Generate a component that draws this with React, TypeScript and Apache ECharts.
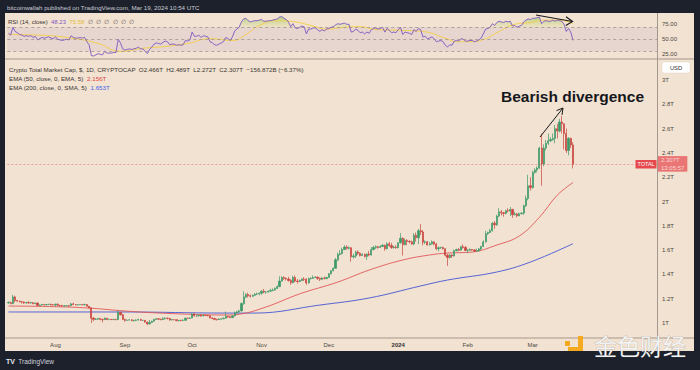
import React, { useEffect, useRef } from 'react';
import * as echarts from 'echarts';

// ---------- DATA ----------
const START_UTC = Date.UTC(2023, 6, 11); // first candle: 2023-07-11
const TOTAL_SLOTS = 290; // daily slots incl. empty space to the right
const FIRST_OPEN = 1.165;

// daily closes (trillion USD)
const closes = [
  // Jul 11-31
  1.170, 1.160, 1.215, 1.185, 1.180, 1.175, 1.172, 1.165, 1.168, 1.165, 1.168, 1.160, 1.165, 1.145, 1.148, 1.152, 1.150, 1.152, 1.155, 1.150, 1.148,
  // Aug
  1.155, 1.145, 1.143, 1.140, 1.142, 1.143, 1.142, 1.158, 1.152, 1.150, 1.150, 1.152, 1.150, 1.152, 1.138, 1.125, 1.040, 1.030, 1.032, 1.038, 1.030, 1.028, 1.040, 1.030, 1.030, 1.028, 1.030, 1.028, 1.088, 1.068, 1.030,
  // Sep
  1.022, 1.025, 1.026, 1.020, 1.022, 1.024, 1.030, 1.022, 1.022, 1.008, 0.992, 1.005, 1.015, 1.030, 1.035, 1.032, 1.028, 1.035, 1.040, 1.038, 1.025, 1.028, 1.027, 1.020, 1.022, 1.020, 1.022, 1.040, 1.038, 1.042,
  // Oct
  1.075, 1.058, 1.060, 1.065, 1.058, 1.064, 1.062, 1.060, 1.042, 1.038, 1.030, 1.028, 1.032, 1.035, 1.040, 1.055, 1.052, 1.045, 1.058, 1.085, 1.092, 1.100, 1.160, 1.215, 1.235, 1.225, 1.220, 1.228, 1.238, 1.240, 1.245,
  // Nov
  1.262, 1.255, 1.255, 1.262, 1.268, 1.272, 1.285, 1.300, 1.345, 1.375, 1.368, 1.362, 1.350, 1.332, 1.375, 1.345, 1.342, 1.350, 1.362, 1.360, 1.330, 1.365, 1.368, 1.375, 1.378, 1.368, 1.360, 1.370, 1.365, 1.375,
  // Dec
  1.405, 1.430, 1.450, 1.520, 1.565, 1.572, 1.605, 1.625, 1.615, 1.620, 1.545, 1.552, 1.585, 1.575, 1.555, 1.565, 1.548, 1.568, 1.560, 1.605, 1.622, 1.628, 1.622, 1.630, 1.640, 1.612, 1.652, 1.638, 1.622, 1.625, 1.620,
  // Jan
  1.660, 1.698, 1.645, 1.680, 1.672, 1.668, 1.650, 1.722, 1.702, 1.760, 1.750, 1.665, 1.668, 1.642, 1.652, 1.668, 1.650, 1.612, 1.620, 1.622, 1.612, 1.558, 1.540, 1.560, 1.552, 1.595, 1.605, 1.600, 1.628, 1.622, 1.598,
  // Feb
  1.600, 1.605, 1.602, 1.592, 1.595, 1.610, 1.630, 1.668, 1.735, 1.745, 1.760, 1.822, 1.808, 1.880, 1.915, 1.908, 1.902, 1.925, 1.922, 1.935, 1.892, 1.898, 1.882, 1.900, 1.905, 1.965, 2.025, 2.130, 2.115,
  // Mar 1-19
  2.240, 2.260, 2.275, 2.440, 2.310, 2.440, 2.480, 2.500, 2.510, 2.520, 2.600, 2.580, 2.655, 2.640, 2.560, 2.420, 2.520, 2.466, 2.307,
];

const highs = [
  1.178, 1.175, 1.232, 1.225, 1.190, 1.185, 1.180, 1.178, 1.175, 1.180, 1.172, 1.170, 1.168, 1.168, 1.152, 1.158, 1.158, 1.156, 1.158, 1.158, 1.155,
  1.160, 1.162, 1.150, 1.150, 1.145, 1.148, 1.148, 1.165, 1.168, 1.156, 1.155, 1.155, 1.155, 1.160, 1.155, 1.140, 1.128, 1.050, 1.040, 1.042, 1.040, 1.036, 1.045, 1.042, 1.035, 1.032, 1.035, 1.035, 1.100, 1.090, 1.075,
  1.035, 1.028, 1.030, 1.030, 1.026, 1.030, 1.035, 1.035, 1.025, 1.025, 1.012, 1.025, 1.020, 1.035, 1.040, 1.038, 1.035, 1.048, 1.048, 1.045, 1.040, 1.032, 1.030, 1.030, 1.026, 1.026, 1.032, 1.045, 1.045, 1.046,
  1.080, 1.085, 1.065, 1.068, 1.070, 1.070, 1.066, 1.066, 1.062, 1.048, 1.040, 1.035, 1.040, 1.038, 1.045, 1.095, 1.060, 1.058, 1.065, 1.095, 1.100, 1.110, 1.170, 1.260, 1.245, 1.250, 1.235, 1.235, 1.245, 1.250, 1.252,
  1.270, 1.280, 1.262, 1.268, 1.282, 1.285, 1.292, 1.310, 1.385, 1.385, 1.385, 1.375, 1.380, 1.362, 1.388, 1.392, 1.362, 1.358, 1.368, 1.378, 1.370, 1.375, 1.378, 1.392, 1.385, 1.382, 1.375, 1.380, 1.382, 1.380,
  1.412, 1.435, 1.458, 1.535, 1.580, 1.600, 1.620, 1.640, 1.640, 1.630, 1.622, 1.570, 1.595, 1.598, 1.582, 1.575, 1.572, 1.572, 1.592, 1.625, 1.635, 1.640, 1.635, 1.640, 1.650, 1.645, 1.665, 1.668, 1.660, 1.635, 1.640,
  1.665, 1.740, 1.705, 1.695, 1.690, 1.680, 1.678, 1.740, 1.745, 1.775, 1.815, 1.765, 1.680, 1.675, 1.668, 1.680, 1.672, 1.660, 1.630, 1.628, 1.628, 1.615, 1.570, 1.568, 1.565, 1.605, 1.612, 1.618, 1.635, 1.648, 1.635,
  1.608, 1.615, 1.610, 1.608, 1.612, 1.618, 1.635, 1.680, 1.760, 1.752, 1.775, 1.830, 1.840, 1.892, 1.945, 1.930, 1.915, 1.932, 1.945, 1.955, 1.940, 1.915, 1.905, 1.910, 1.912, 1.975, 2.050, 2.220, 2.200,
  2.255, 2.275, 2.290, 2.450, 2.560, 2.470, 2.505, 2.560, 2.530, 2.560, 2.630, 2.640, 2.680, 2.705, 2.640, 2.600, 2.530, 2.525, 2.489,
];

const lows = [
  1.160, 1.155, 1.155, 1.170, 1.175, 1.170, 1.160, 1.158, 1.160, 1.160, 1.160, 1.155, 1.155, 1.140, 1.140, 1.145, 1.145, 1.146, 1.150, 1.145, 1.143,
  1.135, 1.140, 1.138, 1.135, 1.138, 1.138, 1.132, 1.140, 1.148, 1.145, 1.145, 1.148, 1.146, 1.145, 1.135, 1.122, 1.000, 1.015, 1.025, 1.028, 1.022, 1.005, 1.025, 1.025, 1.022, 1.025, 1.025, 1.022, 1.025, 1.062, 1.025,
  1.010, 1.020, 1.020, 1.015, 1.012, 1.015, 1.020, 1.018, 1.018, 1.002, 0.982, 0.990, 1.000, 1.012, 1.025, 1.028, 1.022, 1.025, 1.030, 1.030, 1.020, 1.022, 1.024, 1.015, 1.012, 1.015, 1.018, 1.020, 1.035, 1.036,
  1.040, 1.055, 1.050, 1.052, 1.052, 1.055, 1.058, 1.055, 1.038, 1.032, 1.022, 1.020, 1.025, 1.030, 1.032, 1.038, 1.042, 1.040, 1.040, 1.055, 1.080, 1.085, 1.095, 1.150, 1.205, 1.210, 1.210, 1.215, 1.225, 1.230, 1.228,
  1.232, 1.245, 1.240, 1.250, 1.258, 1.262, 1.265, 1.280, 1.295, 1.340, 1.355, 1.350, 1.340, 1.315, 1.328, 1.335, 1.325, 1.338, 1.345, 1.345, 1.315, 1.325, 1.358, 1.362, 1.370, 1.355, 1.345, 1.352, 1.360, 1.362,
  1.372, 1.400, 1.425, 1.448, 1.510, 1.555, 1.565, 1.600, 1.605, 1.605, 1.505, 1.530, 1.535, 1.560, 1.548, 1.552, 1.540, 1.520, 1.550, 1.555, 1.598, 1.610, 1.612, 1.618, 1.625, 1.595, 1.605, 1.628, 1.610, 1.612, 1.612,
  1.615, 1.655, 1.555, 1.640, 1.640, 1.655, 1.645, 1.640, 1.670, 1.650, 1.725, 1.640, 1.650, 1.638, 1.640, 1.645, 1.640, 1.600, 1.590, 1.610, 1.605, 1.548, 1.470, 1.530, 1.535, 1.548, 1.590, 1.590, 1.595, 1.612, 1.590,
  1.575, 1.595, 1.595, 1.585, 1.588, 1.590, 1.600, 1.625, 1.662, 1.725, 1.740, 1.752, 1.775, 1.800, 1.870, 1.885, 1.875, 1.895, 1.910, 1.880, 1.865, 1.885, 1.870, 1.880, 1.895, 1.890, 1.955, 2.010, 2.090,
  2.105, 2.230, 2.240, 2.270, 2.130, 2.290, 2.420, 2.465, 2.490, 2.500, 2.480, 2.520, 2.570, 2.560, 2.430, 2.400, 2.380, 2.440, 2.272,
];

// EMA 50 and SMA 200: [day index, value]
const ema50Pts = [
  [0, 1.140], [20, 1.135], [36, 1.123], [52, 1.099], [70, 1.080], [97, 1.066], [103, 1.072], [115, 1.132],
  [130, 1.240], [147, 1.337], [161, 1.436], [176, 1.519], [188, 1.560], [196, 1.576], [207, 1.584],
  [218, 1.642], [228, 1.716], [237, 1.870], [245, 2.053], [252, 2.156],
];
const sma200Pts = [
  [0, 1.091], [52, 1.091], [97, 1.082], [110, 1.082], [139, 1.148], [161, 1.206], [184, 1.305],
  [196, 1.354], [218, 1.420], [233, 1.502], [252, 1.653],
];

// RSI(14), one value per day
const rsi = [
  60, 57, 70, 63, 61, 58, 57, 55, 56, 55, 56, 53, 55, 49, 51, 53, 52, 53, 54, 52, 51,
  54, 50, 49, 48, 49, 50, 49, 56, 53, 52, 52, 53, 52, 53, 46, 41, 23, 22, 24, 26, 25, 24, 30, 27, 27, 27, 28, 28, 50, 44, 34,
  32, 33, 34, 33, 34, 35, 37, 34, 34, 30, 26, 33, 37, 42, 44, 43, 42, 45, 47, 46, 41, 42, 42, 40, 41, 40, 41, 48, 47, 49,
  62, 55, 55, 57, 53, 56, 55, 54, 46, 44, 41, 40, 42, 44, 46, 53, 51, 48, 54, 64, 67, 70, 79, 84, 85, 81, 79, 80, 81, 81, 82,
  83, 80, 80, 81, 81, 82, 83, 84, 87, 88, 85, 83, 79, 71, 76, 69, 68, 70, 72, 71, 59, 67, 67, 69, 69, 66, 63, 66, 64, 67,
  68, 70, 71, 74, 76, 75, 76, 77, 75, 75, 62, 63, 67, 65, 61, 62, 59, 62, 60, 66, 68, 69, 67, 68, 70, 62, 68, 65, 61, 62, 61,
  66, 70, 58, 62, 61, 60, 58, 66, 63, 68, 66, 54, 55, 51, 52, 54, 51, 46, 47, 48, 46, 40, 37, 41, 40, 47, 48, 47, 51, 50, 47,
  47, 48, 48, 46, 47, 49, 52, 59, 67, 68, 70, 76, 73, 78, 80, 79, 78, 80, 79, 80, 72, 73, 70, 72, 73, 79, 82, 84, 83,
  85, 85, 86, 87, 76, 80, 81, 80, 80, 82, 80, 82, 81, 80, 75, 63, 68, 62, 48.23,
];
// RSI-based MA: [day index, value]
const rsiMaPts = [
  [0, 58], [13, 57], [30, 51], [40, 43], [50, 30], [60, 35], [70, 38], [80, 43], [90, 51], [100, 48],
  [106, 58], [112, 73], [120, 81], [128, 79], [136, 72], [142, 67], [150, 70], [156, 71], [165, 66],
  [175, 65], [185, 63], [195, 52], [200, 46], [206, 46], [213, 51], [219, 63], [226, 75], [233, 78],
  [240, 82], [246, 82], [252, 76],
];

const priceTicks = [1, 1.2, 1.4, 1.6, 1.8, 2, 2.2, 2.4, 2.6, 2.8, 3];
const rsiTicks = [25, 50, 75];
const rsiLevels = [70, 50, 30];
const MONTHS = ['Jan', 'Feb', 'Mar', 'Apr', 'May', 'Jun', 'Jul', 'Aug', 'Sep', 'Oct', 'Nov', 'Dec'];
const LAST_PRICE = 2.307;
const LAST_TIME = '13:05:57';
const RSI_LAST = '48.23';
const RSI_MA_LAST = '75.58';

// ---------- STYLE ----------
const FONT = "'Liberation Sans', Arial, sans-serif";
const UP = '#3d9a68';
const DOWN = '#c9453f';
const AXIS_TXT = '#4d4843';
const FRAME = '#a5978b';

function buildOption() {
  const categories = Array.from({ length: TOTAL_SLOTS }, (_, i) =>
    new Date(START_UTC + i * 86400000).toISOString().slice(0, 10)
  );
  const candles = closes.map((c, i) => {
    const o = i === 0 ? FIRST_OPEN : closes[i - 1];
    return [o, c, Math.min(lows[i], o, c), Math.max(highs[i], o, c)];
  });
  const rsiData = rsi.map((v, i) => [i, v]);
  const obData = rsi.map((v, i) => [i, Math.max(v, 70)]);
  const lastIdx = closes.length - 1;

  const gridL = 7.3;
  const gridR = 43;

  return {
    animation: false,
    backgroundColor: 'transparent',
    textStyle: { fontFamily: FONT },
    grid: [
      { left: gridL, right: gridR, top: 60, height: 277 },
      { left: gridL, right: gridR, top: 13.5, height: 44.5 },
    ],
    xAxis: [
      {
        type: 'category',
        gridIndex: 0,
        data: categories,
        boundaryGap: true,
        axisLine: { show: false },
        axisTick: { show: false },
        splitLine: { show: false },
        axisLabel: {
          interval: (i: number, v: string) => v.endsWith('-01') && i <= lastIdx,
          formatter: (v: string) => {
            const m = +v.slice(5, 7);
            return m === 1 ? `{y|${v.slice(0, 4)}}` : MONTHS[m - 1];
          },
          rich: { y: { fontWeight: 'bold', fontSize: 6, color: '#333', fontFamily: FONT } },
          color: AXIS_TXT,
          fontSize: 6,
          margin: 5,
          fontFamily: FONT,
        },
      },
      { type: 'value', gridIndex: 0, min: -0.5, max: TOTAL_SLOTS - 0.5, show: false },
      { type: 'value', gridIndex: 1, min: -0.5, max: TOTAL_SLOTS - 0.5, show: false },
    ],
    yAxis: [
      {
        type: 'value',
        gridIndex: 0,
        position: 'right',
        min: 0.885,
        max: 3.165,
        axisLine: { show: false },
        axisTick: { show: false },
        splitLine: { show: false },
        axisLabel: {
          customValues: priceTicks,
          formatter: (v: number) => `${parseFloat(v.toFixed(1))}T`,
          color: AXIS_TXT,
          fontSize: 6,
          margin: 5,
          fontFamily: FONT,
        },
      },
      {
        type: 'value',
        gridIndex: 1,
        position: 'right',
        min: 18.8,
        max: 93,
        axisLine: { show: false },
        axisTick: { show: false },
        splitLine: { show: false },
        axisLabel: {
          customValues: rsiTicks,
          formatter: (v: number) => v.toFixed(2),
          color: AXIS_TXT,
          fontSize: 6,
          margin: 5,
          fontFamily: FONT,
        },
      },
    ],
    series: [
      {
        type: 'line',
        name: 'SMA200',
        xAxisIndex: 1,
        yAxisIndex: 0,
        data: sma200Pts,
        showSymbol: false,
        smooth: 0.4,
        silent: true,
        lineStyle: { color: '#4356d6', width: 0.9 },
        z: 3,
      },
      {
        type: 'line',
        name: 'EMA50',
        xAxisIndex: 1,
        yAxisIndex: 0,
        data: ema50Pts,
        showSymbol: false,
        smooth: 0.4,
        silent: true,
        lineStyle: { color: '#e0585a', width: 0.9 },
        z: 3,
      },
      {
        type: 'candlestick',
        xAxisIndex: 0,
        yAxisIndex: 0,
        data: candles,
        barWidth: 1.7,
        silent: true,
        z: 4,
        itemStyle: {
          color: UP,
          color0: DOWN,
          borderColor: UP,
          borderColor0: DOWN,
          borderWidth: 0.7,
        },
        markLine: {
          silent: true,
          symbol: ['none', 'none'],
          data: [{ yAxis: LAST_PRICE }],
          lineStyle: { color: '#e04848', type: [2, 2], width: 0.6, opacity: 0.7 },
          label: {
            show: true,
            position: 'end',
            distance: 1,
            formatter: () => `${LAST_PRICE}T\n${LAST_TIME}`,
            backgroundColor: '#e5484d',
            color: '#ffffff',
            fontSize: 6,
            lineHeight: 7.3,
            padding: [1, 3, 0, 3],
            fontFamily: FONT,
          },
        },
      },
      {
        type: 'line',
        name: 'RSI OB fill',
        xAxisIndex: 2,
        yAxisIndex: 1,
        data: obData,
        showSymbol: false,
        silent: true,
        lineStyle: { opacity: 0, width: 0 },
        areaStyle: {
          origin: 70,
          color: new echarts.graphic.LinearGradient(0, 0, 0, 1, [
            { offset: 0, color: 'rgba(110,185,70,0.75)' },
            { offset: 1, color: 'rgba(200,220,110,0.2)' },
          ]),
        },
        z: 2,
      },
      {
        type: 'line',
        name: 'RSI MA',
        xAxisIndex: 2,
        yAxisIndex: 1,
        data: rsiMaPts,
        showSymbol: false,
        smooth: 0.5,
        silent: true,
        lineStyle: { color: '#f2cf4e', width: 1 },
        z: 3,
      },
      {
        type: 'line',
        name: 'RSI',
        xAxisIndex: 2,
        yAxisIndex: 1,
        data: rsiData,
        showSymbol: false,
        silent: true,
        lineStyle: { color: '#7e57c2', width: 0.9 },
        z: 4,
        markArea: {
          silent: true,
          itemStyle: { color: 'rgba(126,87,194,0.09)' },
          data: [[{ yAxis: 30 }, { yAxis: 70 }]],
        },
        markLine: {
          silent: true,
          symbol: ['none', 'none'],
          label: { show: false },
          lineStyle: { color: '#968a86', type: [3, 3], width: 0.7 },
          data: rsiLevels.map((v) => ({ yAxis: v })),
        },
      },
    ],
    graphic: [
      // frame lines
      { type: 'line', silent: true, z: 50, shape: { x1: 657.5, y1: 13, x2: 657.5, y2: 351 }, style: { stroke: FRAME, lineWidth: 1 } },
      { type: 'line', silent: true, z: 50, shape: { x1: 5, y1: 59, x2: 694, y2: 59 }, style: { stroke: FRAME, lineWidth: 1 } },
      { type: 'line', silent: true, z: 50, shape: { x1: 5, y1: 338, x2: 694, y2: 338 }, style: { stroke: FRAME, lineWidth: 1 } },
      // top header
      {
        type: 'text', silent: true, z: 60, x: 7, y: 7,
        style: { text: 'bitcoinwallah published on TradingView.com, Mar 19, 2024 10:54 UTC', fill: '#c9ccd3', fontSize: 6.2, fontFamily: FONT, verticalAlign: 'middle' },
      },
      // RSI legend
      {
        type: 'text', silent: true, z: 60, x: 8, y: 22,
        style: {
          text: `{a|RSI (14, close)}  {b|${RSI_LAST}}  {c|${RSI_MA_LAST}}  {d|∅  ∅  ∅  ∅  ∅  ∅}`,
          verticalAlign: 'middle',
          fontFamily: FONT,
          fontSize: 6,
          rich: {
            a: { fill: '#3a3632', fontSize: 6, fontFamily: FONT },
            b: { fill: '#7e57c2', fontSize: 6, fontFamily: FONT },
            c: { fill: '#e3bd3c', fontSize: 6, fontFamily: FONT },
            d: { fill: '#6c6660', fontSize: 6, fontFamily: FONT },
          },
        },
      },
      // main legend
      {
        type: 'text', silent: true, z: 60, x: 9, y: 69,
        style: {
          text: 'Crypto Total Market Cap, $, 1D, CRYPTOCAP  O2.466T  H2.489T  L2.272T  C2.307T  −156.872B (−6.37%)',
          fill: '#3a3632', fontSize: 6.2, fontFamily: FONT, verticalAlign: 'middle',
        },
      },
      {
        type: 'text', silent: true, z: 60, x: 9, y: 78,
        style: {
          text: '{a|EMA (50, close, 0, EMA, 5)}  {r|2.156T}',
          verticalAlign: 'middle', fontFamily: FONT, fontSize: 6.2,
          rich: { a: { fill: '#3a3632', fontSize: 6.2, fontFamily: FONT }, r: { fill: '#e0464a', fontSize: 6.2, fontFamily: FONT } },
        },
      },
      {
        type: 'text', silent: true, z: 60, x: 9, y: 87,
        style: {
          text: '{a|EMA (200, close, 0, SMA, 5)}  {b|1.653T}',
          verticalAlign: 'middle', fontFamily: FONT, fontSize: 6.2,
          rich: { a: { fill: '#3a3632', fontSize: 6.2, fontFamily: FONT }, b: { fill: '#3f62e8', fontSize: 6.2, fontFamily: FONT } },
        },
      },
      // USD box
      { type: 'rect', silent: true, z: 60, shape: { x: 662, y: 62, width: 28, height: 11, r: 2 }, style: { fill: '#ffffff', stroke: '#e0d6cc', lineWidth: 0.5 } },
      { type: 'text', silent: true, z: 61, x: 676, y: 67.5, style: { text: 'USD', fill: '#333', fontSize: 5.8, fontFamily: FONT, align: 'center', verticalAlign: 'middle' } },
      // TOTAL tag
      { type: 'rect', silent: true, z: 60, shape: { x: 635.5, y: 160, width: 21, height: 8.5 }, style: { fill: '#e5484d' } },
      { type: 'text', silent: true, z: 61, x: 646, y: 164.3, style: { text: 'TOTAL', fill: '#ffffff', fontSize: 5.5, fontFamily: FONT, align: 'center', verticalAlign: 'middle' } },
      // annotation
      {
        type: 'text', silent: true, z: 60, x: 501, y: 96,
        style: { text: 'Bearish divergence', fill: '#15171c', fontSize: 15.5, fontWeight: 'bold', fontFamily: FONT, verticalAlign: 'middle' },
      },
      { type: 'line', silent: true, z: 60, shape: { x1: 540, y1: 137, x2: 563, y2: 108 }, style: { stroke: '#1a1a1a', lineWidth: 1 } },
      { type: 'polyline', silent: true, z: 60, shape: { points: [[556.5, 110.6], [563, 108], [562, 114.9]] }, style: { stroke: '#1a1a1a', lineWidth: 1, fill: 'none' } },
      { type: 'line', silent: true, z: 60, shape: { x1: 536, y1: 15, x2: 572.5, y2: 21.5 }, style: { stroke: '#1a1a1a', lineWidth: 1.2 } },
      { type: 'polyline', silent: true, z: 60, shape: { points: [[566, 16.8], [572.5, 21.5], [565.8, 25.5]] }, style: { stroke: '#1a1a1a', lineWidth: 1.2, fill: 'none' } },
      // watermark
      { type: 'rect', silent: true, z: 70, shape: { x: 565, y: 341, width: 5, height: 5 }, style: { fill: '#f5a91e' } },
      { type: 'rect', silent: true, z: 70, shape: { x: 578, y: 336, width: 5, height: 15 }, style: { fill: '#f5a91e' } },
      { type: 'rect', silent: true, z: 70, shape: { x: 568, y: 347, width: 15, height: 4 }, style: { fill: '#f5a91e' } },
      {
        type: 'text', silent: true, z: 70, x: 594, y: 345,
        style: {
          text: '金色财经', fill: '#f3f3f3', fontSize: 23, fontFamily: "'Noto Sans CJK SC', sans-serif",
          verticalAlign: 'middle', stroke: 'rgba(90,90,90,0.45)', lineWidth: 0.6,
        },
      },
      // TradingView footer
      {
        type: 'text', silent: true, z: 60, x: 6, y: 361,
        style: {
          text: '{l|TV} {t|TradingView}',
          verticalAlign: 'middle', fontFamily: FONT,
          rich: {
            l: { fill: '#e6e8ee', fontSize: 7, fontWeight: 'bold', fontFamily: FONT },
            t: { fill: '#d1d4dc', fontSize: 6.5, fontFamily: FONT },
          },
        },
      },
    ],
  };
}

export default function App() {
  const ref = useRef<HTMLDivElement>(null);
  useEffect(() => {
    if (!ref.current) return;
    const chart = echarts.init(ref.current, null, { renderer: 'svg' });
    chart.setOption(buildOption() as any);
    return () => chart.dispose();
  }, []);
  return (
    <div style={{ position: 'fixed', left: 0, top: 0, width: 700, height: 370, background: '#1d212c', overflow: 'hidden' }}>
      <div style={{ position: 'absolute', left: 5, top: 13, width: 689, height: 338, background: '#f2e2d1' }} />
      <div ref={ref} style={{ position: 'absolute', left: 0, top: 0, width: 700, height: 370 }} />
    </div>
  );
}
